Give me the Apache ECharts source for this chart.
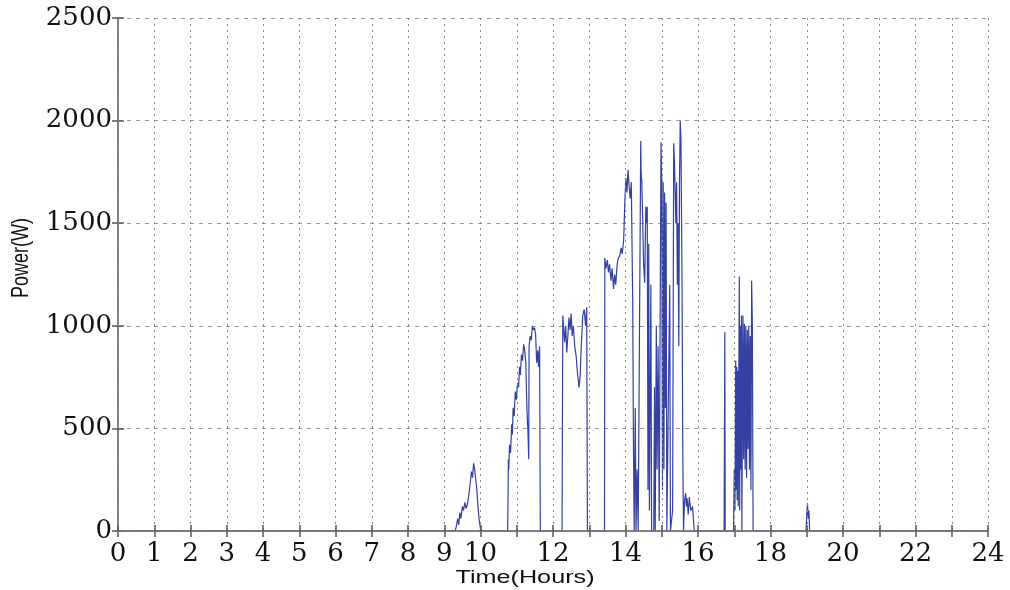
<!DOCTYPE html>
<html>
<head>
<meta charset="utf-8">
<script src="https://cdn.jsdelivr.net/npm/echarts@6/dist/echarts.min.js"></script>
<style>
html,body{margin:0;padding:0;background:#fff;}
#chart{width:1010px;height:590px;}
</style>
</head>
<body>
<div id="chart"></div>
<script>
const timeHours = [
 0, 9.30,
 9.33, 9.37, 9.40, 9.43, 9.46, 9.50, 9.53, 9.57, 9.60, 9.64, 9.68, 9.72, 9.75, 9.78, 9.81, 9.84, 9.87, 9.90, 9.93, 9.96, 10.00, 10.05,
 10.75, 10.77, 10.78, 10.80, 10.83, 10.86, 10.88, 10.90, 10.93, 10.96, 10.99, 11.02, 11.05, 11.08, 11.10, 11.13, 11.16, 11.19, 11.22, 11.25, 11.28, 11.31, 11.33, 11.34, 11.37, 11.40, 11.43, 11.46, 11.49, 11.52, 11.55, 11.58, 11.60, 11.63, 11.65,
 12.25, 12.27, 12.29, 12.32, 12.35, 12.38, 12.41, 12.44, 12.47, 12.50, 12.53, 12.56, 12.60, 12.64, 12.68, 12.72, 12.75, 12.78, 12.82, 12.86, 12.90, 12.93, 12.95,
 13.42, 13.43, 13.46, 13.50, 13.53, 13.56, 13.60, 13.63, 13.67, 13.70, 13.73, 13.77, 13.80, 13.84, 13.88, 13.91, 13.95, 13.98, 14.01, 14.04, 14.07, 14.10, 14.13, 14.16, 14.20, 14.22, 14.24, 14.27, 14.29, 14.32, 14.35, 14.40,
 14.42, 14.43, 14.45, 14.47, 14.50, 14.53, 14.56, 14.58, 14.60, 14.62, 14.64, 14.66, 14.70, 14.72, 14.78, 14.80, 14.82, 14.85, 14.87, 14.90, 14.93, 14.96, 14.98, 15.00, 15.02, 15.04, 15.06, 15.08, 15.10, 15.12, 15.14, 15.18, 15.22, 15.24, 15.30, 15.33, 15.35, 15.37, 15.39, 15.41, 15.43, 15.45, 15.47, 15.49, 15.51, 15.53, 15.56, 15.58, 15.60,
 15.63, 15.66, 15.68, 15.70, 15.73, 15.76, 15.80, 15.85, 15.88, 15.90,
 16.72, 16.74, 16.75, 16.98, 17.00, 17.02, 17.04, 17.05, 17.07, 17.08, 17.10, 17.11, 17.13, 17.14, 17.15, 17.17, 17.18, 17.20, 17.21, 17.24, 17.26, 17.28, 17.30, 17.32, 17.34, 17.36, 17.38, 17.40, 17.42, 17.44, 17.46, 17.48, 17.50, 17.52,
 18.98, 19.00, 19.02, 19.04, 19.06, 19.08, 24
];
const powerW = [
 0, 0,
 20, 60, 30, 90, 60, 120, 100, 140, 110, 130, 180, 240, 290, 260, 330, 300, 250, 200, 120, 60, 10, 0,
 0, 350, 300, 420, 380, 520, 470, 600, 560, 680, 640, 720, 700, 800, 760, 860, 830, 910, 880, 820, 600, 480, 350, 900, 950, 930, 1000, 980, 990, 960, 820, 880, 800, 900, 0,
 0, 1050, 1000, 920, 1000, 870, 950, 1040, 980, 1060, 950, 1000, 900, 850, 760, 700, 760, 900, 1050, 1080, 1000, 1090, 0,
 0, 1330, 1280, 1320, 1260, 1300, 1220, 1280, 1180, 1250, 1200, 1300, 1330, 1340, 1380, 1350, 1420, 1600, 1720, 1650, 1760, 1680, 1620, 1700, 1100, 400, 0, 600, 0, 300, 0, 0,
 1900, 1750, 1700, 1550, 1300, 1210, 1580, 1500, 1580, 200, 1400, 100, 1200, 0, 0, 700, 0, 1000, 300, 900, 50, 1200, 1895, 1700, 200, 1700, 300, 1650, 600, 1600, 0, 0, 1200, 0, 100, 1890, 1800, 1650, 1500, 1700, 1200, 1500, 900, 1700, 2000, 1900, 1200, 400, 0,
 150, 185, 120, 160, 80, 165, 100, 120, 40, 0,
 0, 970, 0, 0, 300, 100, 830, 200, 800, 150, 780, 120, 900, 1240, 100, 1000, 300, 1050, 0, 1050, 350, 1010, 300, 1000, 260, 980, 400, 1000, 300, 950, 200, 1220, 1000, 0,
 0, 80, 135, 60, 100, 0, 0
];
const yTicks = [0, 500, 1000, 1500, 2000, 2500];

const seriesData = timeHours.map((t, i) => [t, powerW[i]]);

const chart = echarts.init(document.getElementById('chart'), null, {renderer: 'canvas'});
const axisGrey = '#7a7a7a';
const labelFont = {fontFamily: 'DejaVu Serif', fontSize: 26, color: '#111'};

chart.setOption({
  animation: false,
  backgroundColor: '#ffffff',
  grid: {left: 118, right: 22, top: 18, bottom: 59, containLabel: false},
  xAxis: [{
    type: 'value', min: 0, max: 24, interval: 1, z: 5,
    axisLine: {show: true, onZero: false, lineStyle: {color: axisGrey, width: 1.5}},
    axisTick: {show: true, inside: true, length: 6, lineStyle: {color: '#555', width: 1.5}},
    splitLine: {show: true, lineStyle: {color: '#8a8a8a', type: [2, 4], width: 1}},
    axisLabel: Object.assign({margin: 10, formatter: v => (v <= 10 || v % 2 === 0) ? String(v) : ''}, labelFont)
  }, {
    type: 'value', position: 'top', min: 0, max: 24, interval: 1,
    axisLine: {show: true, lineStyle: {color: axisGrey, width: 1.5}},
    axisTick: {show: true, inside: true, length: 6, lineStyle: {color: '#555', width: 1.5}},
    splitLine: {show: false}, axisLabel: {show: false}
  }],
  yAxis: [{
    type: 'value', min: yTicks[0], max: yTicks[yTicks.length - 1], interval: 500,
    axisLine: {show: true, lineStyle: {color: axisGrey, width: 1.5}},
    axisTick: {show: true, inside: true, length: 6, lineStyle: {color: '#555', width: 1.5}},
    splitLine: {show: true, lineStyle: {color: '#9a9a9a', type: [4, 5], width: 1}},
    axisLabel: Object.assign({margin: 6, formatter: v => String(v)}, labelFont)
  }, {
    type: 'value', position: 'right', min: 0, max: 2500, interval: 500,
    axisLine: {show: true, lineStyle: {color: axisGrey, width: 1.5}},
    axisTick: {show: true, inside: true, length: 6, lineStyle: {color: '#555', width: 1.5}},
    splitLine: {show: false}, axisLabel: {show: false}
  }],
  graphic: [{
    type: 'text', x: 525, y: 578, scaleX: 1.4,
    style: {text: 'Time(Hours)', fontFamily: 'Liberation Sans', fontSize: 18, fill: '#111', align: 'center', verticalAlign: 'middle'}
  }, {
    type: 'text', x: 22, y: 258, rotation: Math.PI / 2, scaleY: 1.3,
    style: {text: 'Power(W)', fontFamily: 'Liberation Sans', fontSize: 18, fill: '#111', align: 'center', verticalAlign: 'middle'}
  }],
  series: [{
    type: 'line', xAxisIndex: 0, yAxisIndex: 0, z: 1,
    data: seriesData, showSymbol: false, symbol: 'none',
    lineStyle: {color: '#3440a2', width: 1.2}
  }]
});
</script>
</body>
</html>
